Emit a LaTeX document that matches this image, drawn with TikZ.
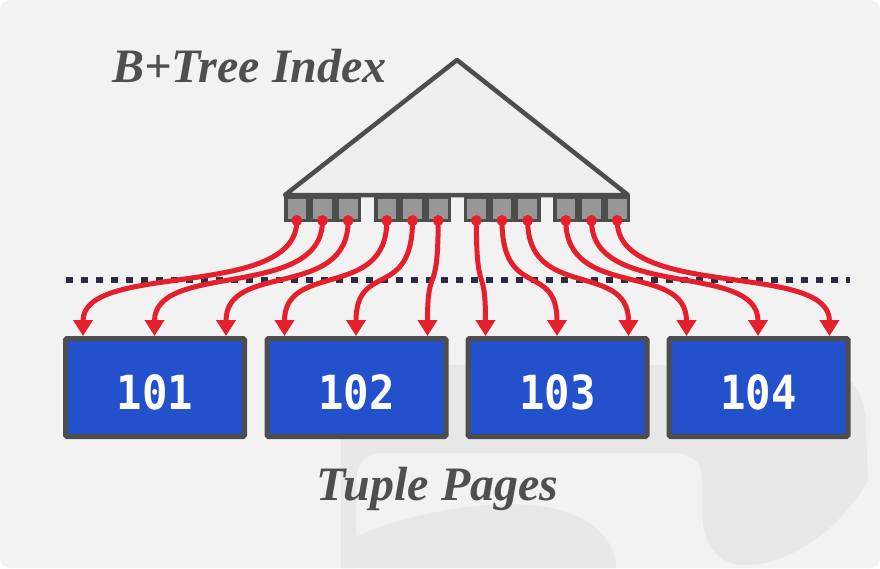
\documentclass[tikz,border=0pt]{standalone}
\usepackage{fontspec}
\setmainfont{Liberation Serif}
\newfontfamily\numfont[FakeStretch=0.9]{DejaVu Sans Mono}
\usetikzlibrary{arrows.meta,calc}
\definecolor{bgc}{HTML}{F2F2F2}
\definecolor{wm}{HTML}{E8E8E8}
\definecolor{dk}{HTML}{4D4D4D}
\definecolor{cellgray}{HTML}{979797}
\definecolor{pageblue}{HTML}{2351CC}
\definecolor{ptr}{HTML}{E3202B}
\definecolor{navy}{HTML}{2B2B44}
\definecolor{txt}{HTML}{4F4F4F}
\definecolor{trifill}{HTML}{EFEFEF}
\begin{document}
\begin{tikzpicture}[x=1pt,y=-1pt,
  cell/.style={draw=dk, fill=cellgray, line width=3.5pt, minimum width=22.17pt, minimum height=23.5pt, inner sep=0pt},
  page/.style={draw=dk, fill=pageblue, line width=5pt, minimum width=179pt, minimum height=98pt, inner sep=0pt, rounded corners=1.5pt},
  num/.style={text=white, font=\numfont\bfseries\fontsize{47}{49}\selectfont, inner sep=0pt},
  lbl/.style={text=txt, font=\fontsize{48}{50}\selectfont\bfseries\itshape, inner sep=0pt, anchor=base},
  arr/.style={ptr, line width=5pt, -{Triangle[width=19pt,length=16pt]}},
  sepline/.style={navy, line width=5.5pt, dash pattern=on 7pt off 8pt},
  tri/.style={draw=dk, fill=trifill, line width=4.5pt, line join=round}
]
\useasboundingbox (0,0) rectangle (880,568);
\fill[white] (0,0) rectangle (880,568);
\fill[bgc, rounded corners=10pt] (0,0) rectangle (880,568);
% watermark
\fill[wm] (341,568) -- (341,440) .. controls (341,390) and (370,365) .. (420,365) -- (800,365) .. controls (850,365) and (866,390) .. (866,430) -- (868,480) .. controls (840,530) and (790,565) .. (745,565) .. controls (715,565) and (702,540) .. (702,510) -- (702,480) .. controls (702,462) and (692,453) .. (672,453) -- (385,453) .. controls (365,453) and (356,462) .. (356,485) -- (356,568) -- cycle;
\fill[wm] (341,568) -- (341,545) .. controls (380,520) and (470,500) .. (530,505) .. controls (590,510) and (616,540) .. (616,568) -- cycle;
% tree
\coordinate (apex) at (457,60);
\coordinate (bl) at (285,195);
\coordinate (br) at (628,195);
\draw[tri] (bl) -- (apex) -- (br) -- cycle;
\foreach \g/\gx in {1/284,2/374,3/463.5,4/553} {
  \foreach \k in {1,2,3} {
    \node[cell] (c\g\k) at ({\gx+25.667*\k-12.833},208.5) {};
  }
}
% separator
\coordinate (sl) at (66,280);
\coordinate (sr) at (850,280);
\draw[sepline] (sl) -- (sr);
% pages
\node[page] (p1) at (155,387.5) {};
\node[page] (p2) at (356.5,387.5) {};
\node[page] (p3) at (557.5,387.5) {};
\node[page] (p4) at (758.5,387.5) {};
\node[num] (n1) at ([yshift=-5pt]p1.center) {101};
\node[num] (n2) at ([yshift=-5pt]p2.center) {102};
\node[num] (n3) at ([yshift=-5pt]p3.center) {103};
\node[num] (n4) at ([yshift=-5pt]p4.center) {104};
% targets
\foreach \p in {1,2,3,4} {
  \coordinate (t\p a) at ($(p\p.north)+(-72,0)$);
  \coordinate (t\p b) at ($(p\p.north)+(-0.5,0)$);
  \coordinate (t\p c) at ($(p\p.north)+(71,0)$);
}
% pointers
\foreach \g in {1,2,3,4} {
  \foreach \k/\t in {1/a,2/b,3/c} {
    \draw[arr] ([yshift=1.5pt]c\g\k.south) .. controls +(0,80) and +(0,-75) .. (t\g\t);
  }
}
\foreach \g in {1,2,3,4} {
  \foreach \k in {1,2,3} {
    \fill[ptr] ([yshift=1.5pt]c\g\k.south) circle (5.5pt);
  }
}
% labels
\node[lbl] (title) at (249.5,82) {B+Tree Index};
\node[lbl] (tuples) at (437.5,500) {Tuple Pages};
\end{tikzpicture}
\end{document}
